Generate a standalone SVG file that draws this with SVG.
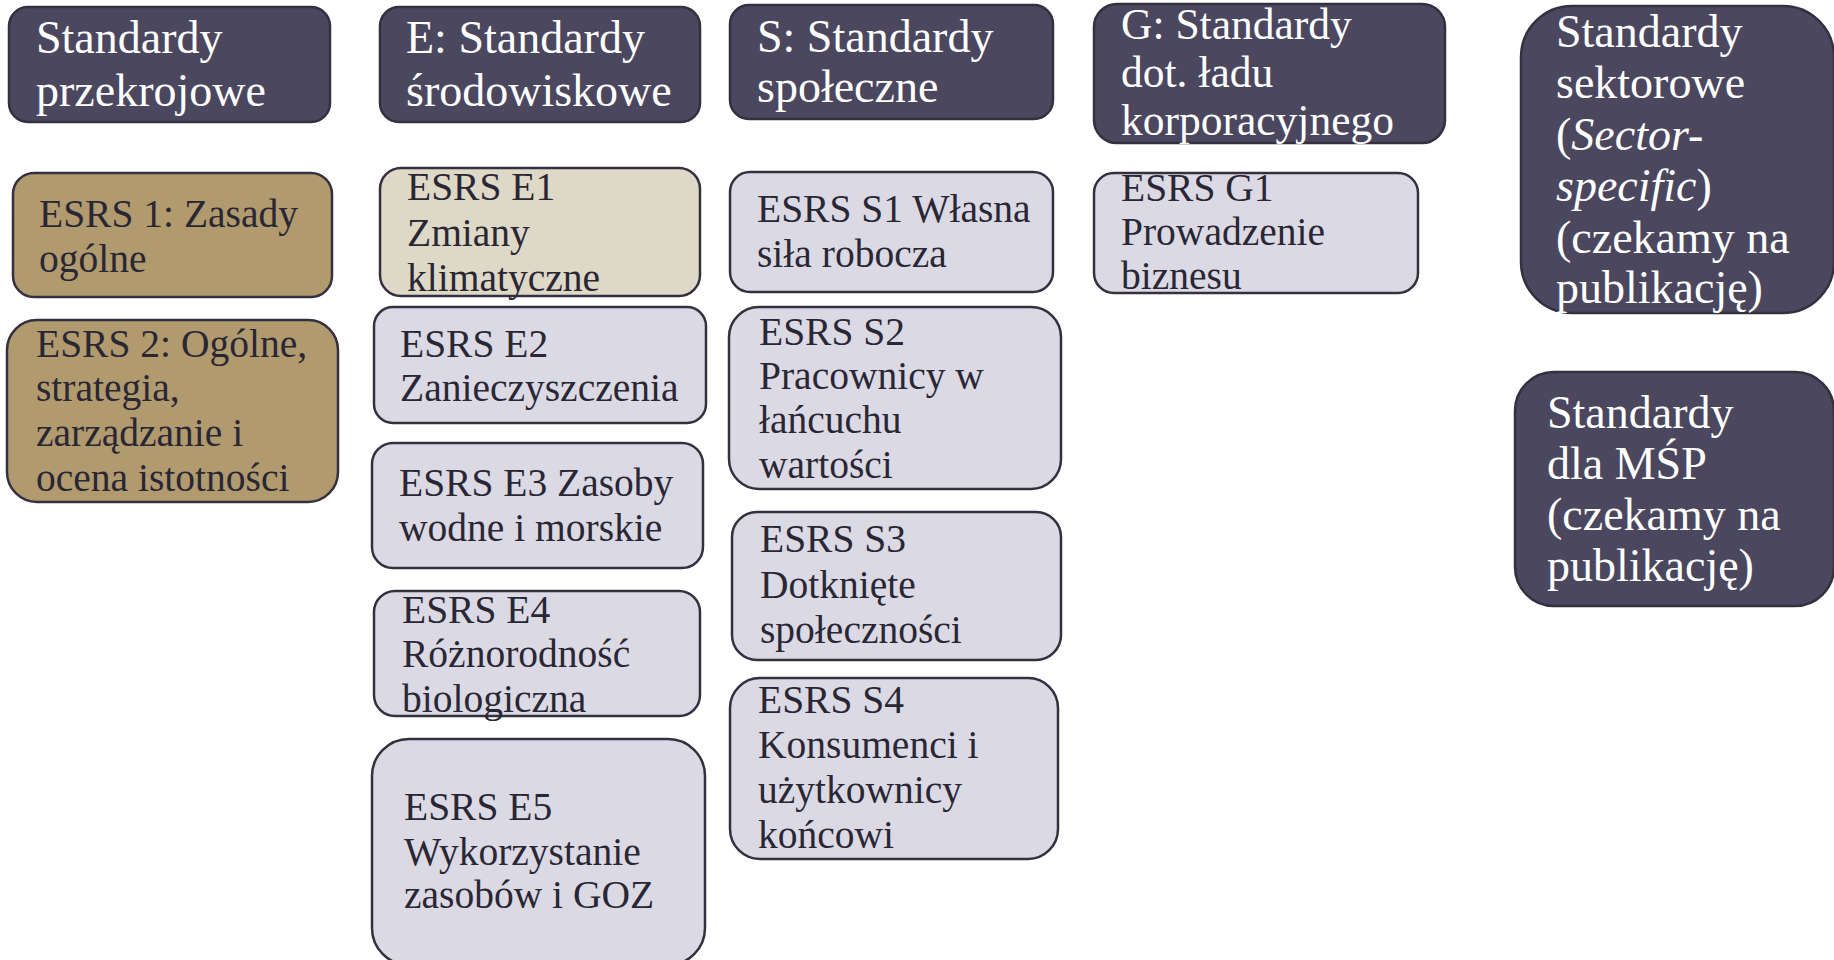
<svg xmlns="http://www.w3.org/2000/svg" width="1834" height="960" viewBox="0 0 1834 960">
<style>
rect{stroke:#34303f;stroke-width:2.5}
.hd{fill:#4b475f}
.tan{fill:#b09a6e}
.bg{fill:#ded8c6}
.lv{fill:#dbd9e4}
text{font-family:"Liberation Serif","Times New Roman",serif}
.ht{fill:#ffffff;font-size:46px}
.gt{fill:#ffffff;font-size:43.5px}
.bt{fill:#2a2735;font-size:39.5px}
</style>
<rect width="1834" height="960" fill="#ffffff" style="stroke:none"/>
<g id="connectors"></g>

<g id="hdr-przekrojowe">
<rect class="hd" x="9" y="7" width="321" height="115" rx="19"/>
<text class="ht" x="36" y="53">Standardy</text>
<text class="ht" x="36" y="106">przekrojowe</text>
</g>
<g id="esrs1">
<rect class="tan" x="13" y="173" width="319" height="124" rx="21"/>
<text class="bt" x="39" y="227">ESRS 1: Zasady</text>
<text class="bt" x="39" y="272">ogólne</text>
</g>
<g id="esrs2">
<rect class="tan" x="7" y="320" width="331" height="182" rx="30"/>
<text class="bt" x="36" y="357">ESRS 2: Ogólne,</text>
<text class="bt" x="36" y="401">strategia,</text>
<text class="bt" x="36" y="446">zarządzanie i</text>
<text class="bt" x="36" y="491">ocena istotności</text>
</g>

<g id="hdr-e">
<rect class="hd" x="380" y="7" width="320" height="115" rx="19"/>
<text class="ht" x="406" y="53">E: Standardy</text>
<text class="ht" x="406" y="106">środowiskowe</text>
</g>
<g id="e1">
<rect class="bg" x="380" y="168" width="320" height="128" rx="21"/>
<text class="bt" x="407" y="200">ESRS E1</text>
<text class="bt" x="407" y="246">Zmiany</text>
<text class="bt" x="407" y="291">klimatyczne</text>
</g>
<g id="e2">
<rect class="lv" x="374" y="307" width="332" height="116" rx="19"/>
<text class="bt" x="400" y="357">ESRS E2</text>
<text class="bt" x="400" y="401">Zanieczyszczenia</text>
</g>
<g id="e3">
<rect class="lv" x="372" y="443" width="331" height="125" rx="21"/>
<text class="bt" x="399" y="496">ESRS E3 Zasoby</text>
<text class="bt" x="399" y="541">wodne i morskie</text>
</g>
<g id="e4">
<rect class="lv" x="374" y="591" width="326" height="125" rx="21"/>
<text class="bt" x="402" y="623">ESRS E4</text>
<text class="bt" x="402" y="667">Różnorodność</text>
<text class="bt" x="402" y="712">biologiczna</text>
</g>
<g id="e5">
<rect class="lv" x="372" y="739" width="333" height="226" rx="37"/>
<text class="bt" x="404" y="820">ESRS E5</text>
<text class="bt" x="404" y="865">Wykorzystanie</text>
<text class="bt" x="404" y="908">zasobów i GOZ</text>
</g>

<g id="hdr-s">
<rect class="hd" x="730" y="5" width="323" height="114" rx="19"/>
<text class="ht" x="757" y="52">S: Standardy</text>
<text class="ht" x="757" y="102">społeczne</text>
</g>
<g id="s1">
<rect class="lv" x="730" y="172" width="323" height="120" rx="20"/>
<text class="bt" x="757" y="222">ESRS S1 Własna</text>
<text class="bt" x="757" y="267">siła robocza</text>
</g>
<g id="s2">
<rect class="lv" x="729" y="307" width="332" height="182" rx="30"/>
<text class="bt" x="759" y="345">ESRS S2</text>
<text class="bt" x="759" y="389">Pracownicy w</text>
<text class="bt" x="759" y="433">łańcuchu</text>
<text class="bt" x="759" y="478">wartości</text>
</g>
<g id="s3">
<rect class="lv" x="732" y="512" width="329" height="148" rx="25"/>
<text class="bt" x="760" y="552">ESRS S3</text>
<text class="bt" x="760" y="598">Dotknięte</text>
<text class="bt" x="760" y="643">społeczności</text>
</g>
<g id="s4">
<rect class="lv" x="730" y="678" width="328" height="181" rx="30"/>
<text class="bt" x="758" y="713">ESRS S4</text>
<text class="bt" x="758" y="758">Konsumenci i</text>
<text class="bt" x="758" y="803">użytkownicy</text>
<text class="bt" x="758" y="848">końcowi</text>
</g>

<g id="hdr-g">
<rect class="hd" x="1094" y="4" width="351" height="139" rx="23"/>
<text class="gt" x="1121" y="39">G: Standardy</text>
<text class="gt" x="1121" y="87">dot. ładu</text>
<text class="gt" x="1121" y="135">korporacyjnego</text>
</g>
<g id="g1">
<rect class="lv" x="1094" y="173" width="324" height="120" rx="20"/>
<text class="bt" x="1121" y="201">ESRS G1</text>
<text class="bt" x="1121" y="245">Prowadzenie</text>
<text class="bt" x="1121" y="289">biznesu</text>
</g>

<g id="sektorowe">
<rect class="hd" x="1521" y="6" width="313" height="307" rx="51"/>
<text class="ht" x="1556" y="47">Standardy</text>
<text class="ht" x="1556" y="98">sektorowe</text>
<text class="ht" x="1556" y="150">(<tspan font-style="italic">Sector-</tspan></text>
<text class="ht" x="1556" y="201"><tspan font-style="italic">specific</tspan>)</text>
<text class="ht" x="1556" y="253">(czekamy na</text>
<text class="ht" x="1556" y="303">publikację)</text>
</g>
<g id="msp">
<rect class="hd" x="1515" y="372" width="319" height="234" rx="39"/>
<text class="ht" x="1547" y="428">Standardy</text>
<text class="ht" x="1547" y="479">dla MŚP</text>
<text class="ht" x="1547" y="530">(czekamy na</text>
<text class="ht" x="1547" y="581">publikację)</text>
</g>
</svg>
